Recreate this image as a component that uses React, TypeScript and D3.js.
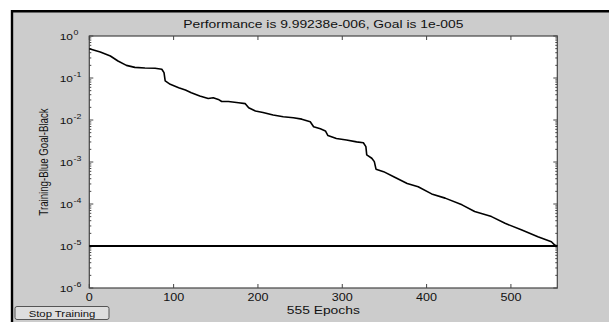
import React, { useEffect, useRef } from "react";
import * as d3 from "d3";

// training record
const epochs = [
  0, 13, 25, 34, 44, 54, 66, 78, 86, 88.6, 90, 96, 106, 114, 121, 131, 141,
  147, 153, 157, 165, 177, 185, 189, 197, 206, 218, 230, 242, 252, 262, 266,
  274, 280, 283, 293, 305, 317, 325, 328, 329, 335, 338, 340, 349, 361, 377,
  390, 406, 422, 442, 457, 477, 493, 513, 532, 544, 548, 552, 555,
];
const performance = [
  0.5, 0.417, 0.334, 0.254, 0.2, 0.179, 0.173, 0.17, 0.162, 0.134, 0.0851,
  0.0708, 0.0589, 0.0518, 0.0447, 0.0372, 0.0324, 0.0339, 0.0309, 0.0275,
  0.0275, 0.0257, 0.0245, 0.0195, 0.0164, 0.0151, 0.0132, 0.012, 0.01135,
  0.01047, 0.00912, 0.00692, 0.00617, 0.0055, 0.00427, 0.00363, 0.00334,
  0.00302, 0.00288, 0.00232, 0.00148, 0.00123, 0.00102, 0.000676, 0.000589,
  0.000447, 0.000309, 0.000257, 0.000174, 0.000138, 0.0000955, 0.0000661,
  0.0000501, 0.0000347, 0.000024, 0.0000166, 0.0000135, 0.0000126, 0.0000105,
  0.00000999238,
];
const goal = 1e-5;
const totalEpochs = 555;
const xTicks = [0, 100, 200, 300, 400, 500];
const yExponents = [0, -1, -2, -3, -4, -5, -6];
const titleText = "Performance is 9.99238e-006, Goal is 1e-005";
const xLabelText = "555 Epochs";
const yLabelText = "Training-Blue  Goal-Black";
const buttonText = "Stop Training";

const W = 609;
const H = 322;
const SX = 1.26; // the screenshot is stretched sideways, text too
const FONT = "'Liberation Sans', Arial, Helvetica, sans-serif";

export default function App() {
  const ref = useRef<SVGSVGElement>(null);

  useEffect(() => {
    const svg = d3.select(ref.current);
    svg.selectAll("*").remove();

    const x = d3.scaleLinear().domain([0, totalEpochs]).range([89.3, 557.3]);
    const y = d3.scaleLog().domain([1e-6, 1]).range([288, 36]);
    const [x0, x1] = x.range();
    const [y0, y1] = y.range();

    const text = (
      tx: number,
      ty: number,
      s: string,
      size: number,
      anchor: string,
      extra = ""
    ) =>
      svg
        .append("text")
        .attr("transform", `translate(${tx},${ty}) scale(${SX},1)${extra}`)
        .attr("text-anchor", anchor)
        .attr("font-family", FONT)
        .attr("font-size", size)
        .attr("fill", "#111")
        .text(s);

    // window background
    svg.append("rect").attr("width", W).attr("height", H).attr("fill", "#fff");
    svg
      .append("rect")
      .attr("x", 11)
      .attr("y", 10)
      .attr("width", W - 11)
      .attr("height", H - 10)
      .attr("fill", "#cccccc");
    svg
      .append("path")
      .attr("d", `M12,${H} V11.2 H${W}`)
      .attr("fill", "none")
      .attr("stroke", "#000")
      .attr("stroke-width", 2.4);

    // axes box
    svg
      .append("rect")
      .attr("x", x0)
      .attr("y", y1)
      .attr("width", x1 - x0)
      .attr("height", y0 - y1)
      .attr("fill", "#fff")
      .attr("stroke", "#444")
      .attr("stroke-width", 1.2);

    const ticks = svg.append("g").attr("stroke", "#444").attr("stroke-width", 1);

    xTicks.forEach((t) => {
      ticks.append("line").attr("x1", x(t)).attr("x2", x(t)).attr("y1", y0).attr("y2", y0 - 4);
      ticks.append("line").attr("x1", x(t)).attr("x2", x(t)).attr("y1", y1).attr("y2", y1 + 4);
      text(x(t), 300.5, String(t), 10, "middle");
    });

    yExponents.forEach((e) => {
      const v = Math.pow(10, e);
      ticks.append("line").attr("x1", x0).attr("x2", x0 + 4).attr("y1", y(v)).attr("y2", y(v));
      ticks.append("line").attr("x1", x1).attr("x2", x1 - 4).attr("y1", y(v)).attr("y2", y(v));
      if (e < 0) {
        d3.range(2, 10).forEach((k) => {
          const m = y((k * v) / 1);
          if (m < y1) return;
          ticks.append("line").attr("x1", x0).attr("x2", x0 + 2).attr("y1", m).attr("y2", m);
          ticks.append("line").attr("x1", x1).attr("x2", x1 - 2).attr("y1", m).attr("y2", m);
        });
      }
      text(73, y(v) + 3.5, "10", 9.5, "end");
      text(73.6, y(v) - 1.5, String(e), 7, "start");
    });

    // goal and training curve
    svg
      .append("line")
      .attr("x1", x0)
      .attr("x2", x1)
      .attr("y1", y(goal))
      .attr("y2", y(goal))
      .attr("stroke", "#000")
      .attr("stroke-width", 1.8);

    const line = d3
      .line<number>()
      .x((_, i) => x(epochs[i]))
      .y((d) => y(d));
    svg
      .append("path")
      .datum(performance)
      .attr("d", line)
      .attr("fill", "none")
      .attr("stroke", "#000")
      .attr("stroke-width", 1.6)
      .attr("stroke-linejoin", "round");

    // labels
    text((x0 + x1) / 2, 28, titleText, 11, "middle");
    text((x0 + x1) / 2, 314, xLabelText, 11, "middle");
    text(48.3, (y0 + y1) / 2, yLabelText, 9.7, "middle", " rotate(-90)");

    // stop button
    svg
      .append("rect")
      .attr("x", 15)
      .attr("y", 306.5)
      .attr("width", 94)
      .attr("height", 13)
      .attr("rx", 2)
      .attr("fill", "#dedede")
      .attr("stroke", "#555")
      .attr("stroke-width", 1);
    text(62, 316.5, buttonText, 9, "middle");
  }, []);

  return (
    <svg
      ref={ref}
      width={W}
      height={H}
      style={{ position: "absolute", left: 0, top: 0 }}
    />
  );
}
